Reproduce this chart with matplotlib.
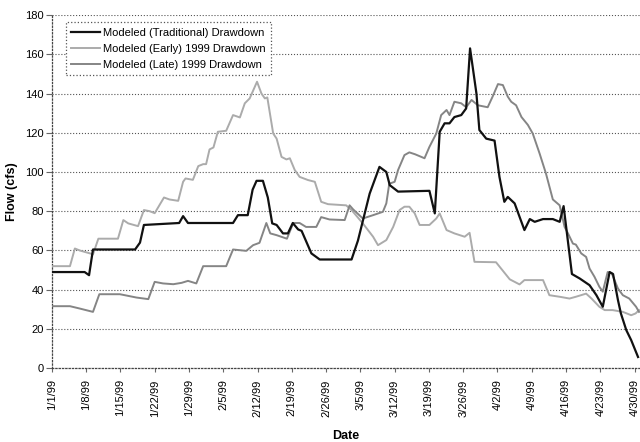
import pandas as pd
import matplotlib
matplotlib.use("Agg")
import matplotlib.pyplot as plt

START = pd.Timestamp("1999-01-01")

# Days after 1/1/99 and modelled flow (cfs) for each drawdown scenario
trad_day = [0, 6.7, 7.6, 8.4, 17, 18, 18.8, 26, 26.8, 27.8, 37, 38, 40, 41, 41.8,
            43.1, 44.1, 45, 45.9, 47.2, 48.2, 49.2, 50.3, 51, 53, 54.7, 61.2, 62.5,
            64.9, 66.9, 68.3, 69, 70.7, 77.1, 78.2, 79.2, 80.2, 81.2, 82.2, 83.6,
            84.6, 85.4, 86.7, 87.3, 88.7, 90.4, 91.4, 92.4, 93.1, 94.5, 96.5, 97.6,
            98.6, 100.3, 102.3, 103.7, 104.5, 106.2, 107.8, 109.8, 111.2, 112.5,
            113.9, 114.6, 115.6, 116.2, 117.3, 118.3, 119.7]
trad_flow = [49, 49, 47.4, 60.5, 60.5, 64, 73, 74, 77.5, 74, 74, 78, 78, 91, 95.5,
             95.5, 87, 73.8, 73, 68.7, 68.7, 74, 70.7, 70, 58.5, 55.4, 55.4, 65,
             89, 102.6, 100, 93.3, 90, 90.4, 78.9, 120.5, 124.8, 124.8, 128, 129,
             132.4, 163, 140, 121.4, 117, 116, 97.5, 84.8, 87.3, 84, 70.4, 76,
             74.6, 76, 76, 74.6, 82.6, 48, 45.7, 42.3, 37.2, 31.3,
             49, 48, 34.7, 27.9, 19.4, 14.3, 5.7]

early_day = [0, 3.7, 4.7, 5.7, 7.8, 8.4, 9.5, 13.5, 14.6, 15.6, 17.6, 18.8, 20, 21,
             22.9, 24, 25.8, 26.8, 27.3, 28.8, 29.9, 30.9, 31.5, 32.2, 33, 33.9,
             35.6, 37, 38.4, 39.4, 40.4, 41.9, 42.8, 43.5, 44, 45.2, 45.9, 46.9,
             47.9, 48.6, 49.6, 50.6, 52.3, 53.7, 55, 56.4, 60.1, 61.2, 63.5, 65.6,
             66.6, 68.3, 69.7, 71, 72, 73, 74.1, 75.1, 77.1, 78.5, 79.2, 80.6, 82.2,
             84.3, 85.3, 86.3, 90.7, 93.5, 95.5, 96.5, 100.3, 101.6, 103.7, 105.7,
             107, 109.1, 110.2, 111.8, 112.9, 114.5, 116.6, 118.3, 119.2, 119.9]
early_flow = [52, 52, 61, 60, 58.5, 58, 66, 66, 75.5, 73.8, 72.4, 80.6, 80, 79,
              87, 86, 85.3, 95, 96.7, 96, 103, 104, 104, 111.5, 112.5, 120.5,
              121, 129, 127.8, 135, 137.5, 146, 140, 137.5, 138, 119.6, 117, 107.7,
              106.4, 107, 101, 97.5, 95.9, 95, 84.8, 83.6, 83, 80.6, 73.8, 67,
              62.7, 65.3, 72, 80.6, 82.3, 82.3, 78.9, 73, 73, 76.3, 78.9, 70.4, 68.7,
              67, 69, 54.2, 54, 45.3, 42.7, 44.9, 44.9, 37.2, 36.4, 35.5,
              36.4, 38, 35.5, 31.3, 29.6, 29.6, 28.7, 27, 27.9, 29.6]

late_day = [0, 3.7, 5.7, 8.4, 9.7, 13.9, 17.3, 19.7, 21, 22.7, 24.8, 26.5, 27.8,
            29.5, 30.9, 35.6, 37, 39.7, 41.1, 42.4, 43.8, 44.6, 45.9, 48, 49.3,
            50.6, 51.9, 54, 55, 56.7, 59.8, 60.8, 61.5, 63.5, 65.6, 67.6, 68.3,
            68.9, 70, 70.7, 72, 73, 74.2, 76.1, 77.1, 78.5, 79.5, 80.6, 81.2, 82.2,
            83.6, 84.6, 85.7, 87, 89, 90, 91.1, 92.1, 93.1, 93.8, 94.8, 95.9, 97.2,
            98.2, 99.6, 100.9, 102.3, 103.7, 104.7, 105.4, 106.4, 107, 108.1,
            109.1, 109.8, 110.8, 111.8, 112.5, 113.5, 114.3, 115.6, 116.6, 117.9,
            119.3, 119.9]
late_flow = [31.6, 31.6, 30.4, 28.7, 37.7, 37.7, 36, 35.2, 44, 43.2, 42.8, 43.5,
             44.5, 43.2, 52, 52, 60.5, 59.8, 62.7, 63.9, 74, 68.7, 67.8, 66, 74,
             74, 72, 72, 77, 75.8, 75.5, 83, 81, 76.3, 78, 79.7, 84,
             94, 95, 101, 108.6, 110, 109, 107, 112.8, 119.6, 129, 131.6, 129, 135.8,
             135, 133, 136.7, 134, 133, 138.4, 144.8, 144.3, 138.4, 135.8, 134, 128,
             124, 119.6, 109.4, 99.2, 86, 83, 72, 68.7, 63.5, 63, 58.5,
             56.7, 50.8, 46.6, 41.5, 39, 49, 48.5, 40.6, 37.2, 35.5,
             31.3, 28.7]

tick_dates = pd.date_range("1999-01-01", "1999-04-30", freq="7D")
y_ticks = list(range(0, 181, 20))


def to_dates(days):
    return START + pd.to_timedelta(days, unit="D")


plt.rcParams["font.family"] = ["Liberation Sans", "DejaVu Sans"]

fig = plt.figure(figsize=(6.4, 4.42), dpi=100)
ax = fig.add_axes([0.081, 0.167, 0.919, 0.799])

ax.plot(to_dates(trad_day), trad_flow, color="#111111", lw=1.6,
        label="Modeled (Traditional) Drawdown", zorder=4)
ax.plot(to_dates(early_day), early_flow, color="#ababab", lw=1.4,
        label="Modeled (Early) 1999 Drawdown", zorder=3)
ax.plot(to_dates(late_day), late_flow, color="#858585", lw=1.4,
        label="Modeled (Late) 1999 Drawdown", zorder=3)

ax.set_xlim(START, START + pd.Timedelta(days=120.1))
ax.set_ylim(0, 180)
ax.set_yticks(y_ticks)
ax.set_xticks(tick_dates)
ax.set_xticklabels([f"{d.month}/{d.day}/{d:%y}" for d in tick_dates],
                   rotation=90, fontsize=8)
ax.tick_params(axis="y", labelsize=8, length=4, pad=2, color="#666666")
ax.tick_params(axis="x", length=3, pad=5, color="#666666")

ax.grid(True, axis="y", linestyle=":", color="#555555", lw=0.8)
for side in ["top", "right"]:
    ax.spines[side].set_visible(False)
for side in ["left", "bottom"]:
    ax.spines[side].set_linestyle(":")
    ax.spines[side].set_color("#444444")
    ax.spines[side].set_linewidth(0.9)

ax.set_ylabel("Flow (cfs)", fontsize=9, fontweight="bold", labelpad=5)
ax.set_xlabel("Date", fontsize=9, fontweight="bold", labelpad=10)

leg = ax.legend(loc="upper left", bbox_to_anchor=(0.103, 0.95),
                bbox_transform=fig.transFigure, fontsize=8, fancybox=False,
                framealpha=1, edgecolor="#555555", handlelength=2.6,
                handletextpad=0.2, borderaxespad=0, labelspacing=0.55,
                borderpad=0.5)
leg.get_frame().set_linestyle(":")
leg.get_frame().set_linewidth(0.9)

fig.savefig("out.png", dpi=100)
